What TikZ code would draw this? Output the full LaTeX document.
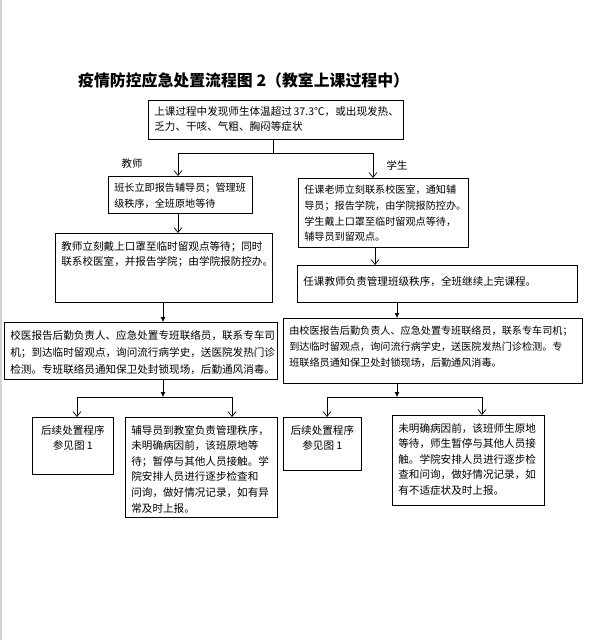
\documentclass[tikz,border=0pt]{standalone}
\usepackage{fontspec}
\newfontfamily\cjk{Noto Sans CJK SC}
\usetikzlibrary{positioning, calc, arrows.meta}

\newdimen\px \px=0.85pt
\newcommand{\celltext}[3]{\parbox[c][#2\px][t]{#1\px}{\raggedright\vspace*{8\px}#3}}

\begin{document}
\begin{tikzpicture}[x=1\px, y=-1\px,
    cell/.style={draw, line width=0.6pt, anchor=north west, inner xsep=6\px, inner ysep=0pt,
                 font=\cjk\fontsize{9pt}{13.2pt}\selectfont},
    small/.style={font=\cjk\fontsize{8.6pt}{13.2pt}\selectfont},
    tag/.style={font=\cjk\fontsize{8.8pt}{10pt}\selectfont},
    arr/.style={-{Straight Barb[length=4.2pt, width=6.8pt]}, line width=0.6pt},
    farr/.style={-{Latex[length=4.2pt, width=4.2pt]}, line width=0.6pt},
    wire/.style={line width=0.6pt}]
    \useasboundingbox (0,0) rectangle (600,640);
    \draw[gray!35, line width=1.7pt] (1,0) -- (1,640);

    % Title
    \node[anchor=west, font=\cjk\bfseries\fontsize{13.5pt}{16pt}\selectfont] (title) at (74,80)
        {疫情防控应急处置流程图 2（教室上课过程中）};

    % Boxes
    \node[cell] (onset) at (148,100) {\celltext{243}{39}{\vspace*{-2\px}上课过程中发现师生体温超过~37.3℃，或出现发热、\\乏力、干咳、气粗、胸闷等症状}};
    \node[cell, small] (teacher1) at (108,176) {\celltext{132}{37}{\vspace*{-1\px}班长立即报告辅导员；管理班\\级秩序，全班原地等待}};
    \node[cell, small] (student1) at (298,178) {\celltext{158}{69}{\vspace*{-1\px}任课老师立刻联系校医室，通知辅\\导员；报告学院，由学院报防控办。\\学生戴上口罩至临时留观点等待，\\辅导员到留观点。}};
    \node[cell] (teacher2) at (55,233) {\celltext{205}{69}{教师立刻戴上口罩至临时留观点等待；同时\\联系校医室，并报告学院；由学院报防控办。}};
    \node[cell] (student2) at (297,265) {\celltext{268}{37}{\vspace*{3\px}任课教师负责管理班级秩序，全班继续上完课程。}};
    \node[cell] (teacher3) at (4,322) {\celltext{261}{57}{\baselineskip=14.4pt 校医报告后勤负责人、应急处置专班联络员，联系专车司\\机；到达临时留观点，询问流行病学史，送医院发热门诊\\检测。专班联络员通知保卫处封锁现场，后勤通风消毒。}};
    \node[cell, small] (student3) at (283,318) {\celltext{287}{65}{由校医报告后勤负责人、应急处置专班联络员，联系专车司机；\\到达临时留观点，询问流行病学史，送医院发热门诊检测。专\\班联络员通知保卫处封锁现场，后勤通风消毒。}};
    \node[cell] (teacherRef) at (32,417) {\celltext{69}{57}{\centering 后续处置程序\\参见图 1}};
    \node[cell] (teacher4) at (125,417) {\celltext{140}{100}{辅导员到教室负责管理秩序，\\未明确病因前，该班原地等\\待；暂停与其他人员接触。学\\院安排人员进行逐步检查和\\问询，做好情况记录，如有异\\常及时上报。}};
    \node[cell] (studentRef) at (283,417) {\celltext{66}{53}{\centering 后续处置程序\\参见图 1}};
    \node[cell] (student4) at (392,415) {\celltext{140}{90}{未明确病因前，该班师生原地\\等待，师生暂停与其他人员接\\触。学院安排人员进行逐步检\\查和问询，做好情况记录，如\\有不适症状及时上报。}};

    % Branch tags
    \node[tag] (teacherTag) at (132,164) {教师};
    \node[tag] (studentTag) at (397,166) {学生};

    % Lanes and junctions
    \coordinate (split) at (273,153);
    \coordinate (splitL) at (178,153);
    \coordinate (splitR) at (373,153);
    \coordinate (laneS) at (375,0);
    \coordinate (laneT) at (163,0);
    \coordinate (laneS2) at (397,0);
    \coordinate (joinL) at (163,397);
    \coordinate (joinLA) at (77,397);
    \coordinate (joinLB) at (232,397);
    \coordinate (joinR) at (397,397);
    \coordinate (joinRA) at (327,397);
    \coordinate (joinRB) at (482,397);

    % Connectors
    \draw[wire] (onset.south -| split) -- (split);
    \draw[wire] (splitL) -- (splitR);
    \draw[arr] (splitL) -- (splitL |- teacher1.north);
    \draw[arr] (splitR) -- (splitR |- student1.north);
    \draw[arr] (teacher1.south -| splitL) -- (splitL |- teacher2.north);
    \draw[arr] (student1.south -| laneS) -- (laneS |- student2.north);
    \draw[farr] (teacher2.south -| laneT) -- (laneT |- teacher3.north);
    \draw[farr] (student2.south -| laneS2) -- (laneS2 |- student3.north);

    \draw[farr] (teacher3.south -| joinL) -- (joinL);
    \draw[wire] (joinLA) -- (joinLB);
    \draw[arr] (joinLA) -- (joinLA |- teacherRef.north);
    \draw[arr] (joinLB) -- (joinLB |- teacher4.north);

    \draw[farr] (student3.south -| joinR) -- (joinR);
    \draw[wire] (joinRA) -- (joinRB);
    \draw[arr] (joinRA) -- (joinRA |- studentRef.north);
    \draw[arr] (joinRB) -- (joinRB |- student4.north);
\end{tikzpicture}
\end{document}
